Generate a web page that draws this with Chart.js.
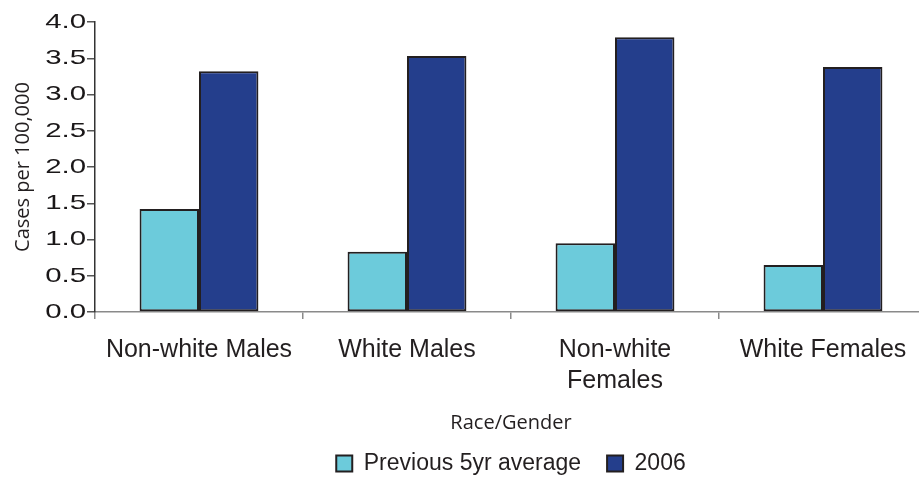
<!DOCTYPE html>
<html>
<head>
<meta charset="utf-8">
<script src="https://cdn.jsdelivr.net/npm/chart.js@4.4.1/dist/chart.umd.min.js"></script>
<style>
  html, body { margin: 0; padding: 0; background: #ffffff; overflow: hidden; }
  #wrap { width: 928px; height: 477px; }
</style>
</head>
<body>
<div id="wrap"><canvas id="chart" width="928" height="477"></canvas></div>
<script>
// Case rates per 100,000 by race/gender group
const categories = ['Non-white Males', 'White Males', ['Non-white', 'Females'], 'White Females'];
const previousAverage = [1.42, 0.83, 0.95, 0.65];
const year2006 = [3.32, 3.53, 3.79, 3.38];
const seriesNames = ['Previous 5yr average', '2006'];
const yTicks = [0, 0.5, 1, 1.5, 2, 2.5, 3, 3.5, 4];

const INK = '#231f20';
const SANS = '"Liberation Sans", Arial, Helvetica, sans-serif';
const HUMANIST = '"Open Sans", "Noto Sans", sans-serif';

// Value axis whose labels are drawn horizontally widened around their right edge
class WideLinearScale extends Chart.LinearScale {
  drawLabels(area) {
    const ctx = this.ctx;
    const anchor = this.right - this.options.grid.tickLength - this.options.ticks.padding;
    ctx.save();
    ctx.translate(anchor, 0);
    ctx.scale(1.4, 1);
    ctx.translate(-anchor, 0);
    super.drawLabels(area);
    ctx.restore();
  }
}
WideLinearScale.id = 'wideLinear';
WideLinearScale.defaults = Chart.LinearScale.defaults;
Chart.register(WideLinearScale);

new Chart(document.getElementById('chart'), {
  type: 'bar',
  data: {
    labels: categories,
    datasets: [
      {
        label: seriesNames[0],
        data: previousAverage,
        backgroundColor: '#6ccbdb',
        borderColor: INK,
        borderWidth: 2,
        borderSkipped: false
      },
      {
        label: seriesNames[1],
        data: year2006,
        backgroundColor: '#243e8c',
        borderColor: INK,
        borderWidth: 2,
        borderSkipped: false
      }
    ]
  },
  options: {
    responsive: false,
    animation: false,
    events: [],
    layout: { padding: { top: 22, right: 1, bottom: -8, left: 0 } },
    datasets: {
      bar: { barPercentage: 1.0, categoryPercentage: 2 / 3.5 }
    },
    scales: {
      x: {
        offset: true,
        grid: {
          offset: true,
          drawOnChartArea: false,
          tickLength: 7,
          color: '#8a8a8a',
          lineWidth: 1.5
        },
        border: { color: '#8a8a8a', width: 1.5 },
        ticks: {
          autoSkip: false,
          maxRotation: 0,
          minRotation: 0,
          padding: 15,
          color: INK,
          font: { family: SANS, size: 25, lineHeight: 1.25 }
        },
        title: {
          display: true,
          text: 'Race/Gender',
          color: INK,
          font: { family: HUMANIST, size: 20, lineHeight: 1.2 },
          padding: { top: 0, bottom: -9 }
        },
        afterFit(scale) { scale.height = 114; }
      },
      y: {
        type: 'wideLinear',
        min: 0,
        max: 4,
        afterBuildTicks(scale) { scale.ticks = yTicks.map(v => ({ value: v })); },
        grid: {
          drawOnChartArea: false,
          tickLength: 8,
          color: '#555555',
          lineWidth: 1.5
        },
        border: { color: '#333333', width: 1.5 },
        ticks: {
          padding: 1,
          color: '#1a1718',
          font: { family: SANS, size: 21 },
          callback: v => Number(v).toFixed(1)
        },
        title: {
          display: true,
          text: 'Cases per 100,000',
          color: INK,
          font: { family: HUMANIST, size: 20, lineHeight: 1.2 },
          padding: { top: 11, bottom: 0 }
        },
        afterFit(scale) { scale.width = 95; }
      }
    },
    plugins: {
      tooltip: { enabled: false },
      title: { display: false },
      legend: {
        display: true,
        position: 'bottom',
        fullSize: false,
        labels: {
          color: INK,
          font: { family: SANS, size: 23 },
          boxWidth: 16,
          boxHeight: 16,
          padding: 26
        }
      }
    }
  }
});
</script>
</body>
</html>
